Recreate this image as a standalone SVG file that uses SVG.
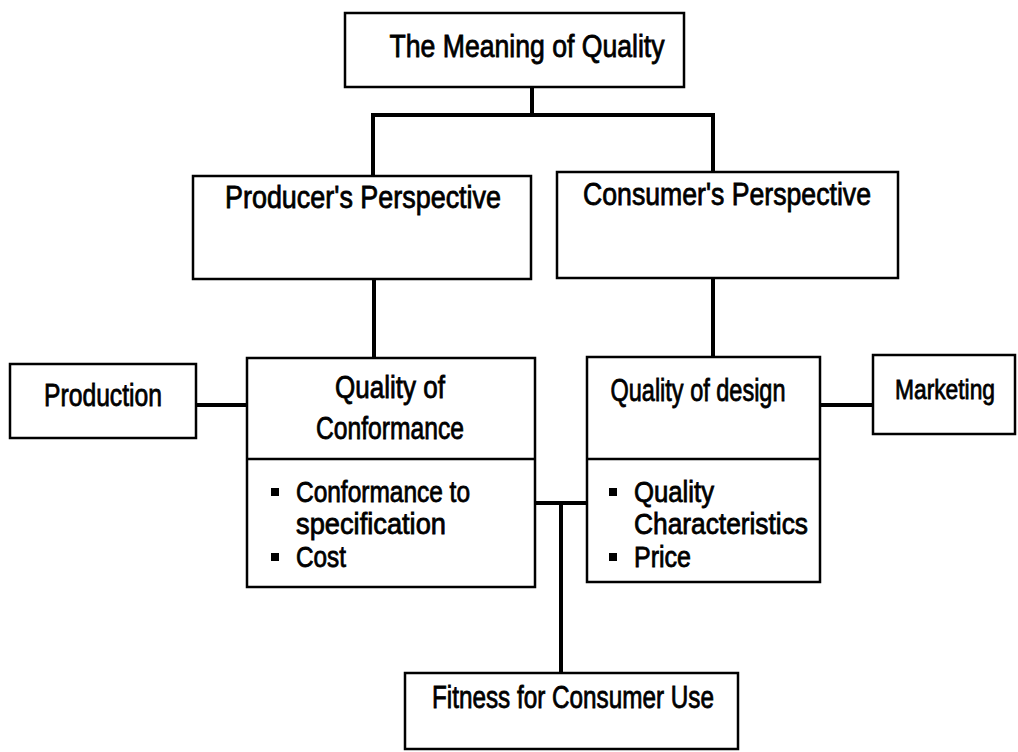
<svg xmlns="http://www.w3.org/2000/svg" width="1018" height="752" viewBox="0 0 1018 752">
  <style>
    .box { fill: #ffffff; stroke: #000000; stroke-width: 2.5; }
    .div { stroke: #000000; stroke-width: 2.5; }
    .wire { fill: none; stroke: #000000; stroke-width: 4; stroke-linecap: square; }
    .t { font-family: "Liberation Sans", Arial, sans-serif; font-size: 31px; fill: #000000; stroke: #000000; stroke-width: 0.8; }
    .c { text-anchor: middle; }
    .b { font-size: 29px; }
    .s { font-size: 28px; }
  </style>
  <defs>
    <rect id="bullet" x="-4" y="-4" width="8" height="8" fill="#000000"/>
  </defs>
  <rect width="1018" height="752" fill="#ffffff"/>

  <!-- connectors -->
  <g id="connectors">
    <path class="wire" d="M532 87 V115 M373 115 H713 M373 115 V176 M713 115 V172"/>
    <path class="wire" d="M374 279 V357 M713 278 V356"/>
    <path class="wire" d="M196 405 H247"/>
    <path class="wire" d="M820 405 H873"/>
    <path class="wire" d="M535 503 H587 M561 503 V673"/>
  </g>

  <g id="meaning">
    <rect class="box" x="345" y="13" width="339" height="74"/>
    <text class="t c" x="527" y="57" textLength="275" lengthAdjust="spacingAndGlyphs">The Meaning of Quality</text>
  </g>

  <g id="producer">
    <rect class="box" x="193" y="176" width="338" height="103"/>
    <text class="t c" x="363" y="208" textLength="276" lengthAdjust="spacingAndGlyphs">Producer's Perspective</text>
  </g>

  <g id="consumer">
    <rect class="box" x="557" y="172" width="341" height="106"/>
    <text class="t c" x="727" y="205" textLength="288" lengthAdjust="spacingAndGlyphs">Consumer's Perspective</text>
  </g>

  <g id="production">
    <rect class="box" x="10" y="364" width="186" height="74"/>
    <text class="t c" x="103" y="406" textLength="118" lengthAdjust="spacingAndGlyphs">Production</text>
  </g>

  <g id="conformance">
    <rect class="box" x="247" y="358" width="288" height="229"/>
    <line class="div" x1="247" y1="459" x2="535" y2="459"/>
    <text class="t c" x="390" y="398" textLength="110" lengthAdjust="spacingAndGlyphs">Quality of</text>
    <text class="t c" x="390" y="439" textLength="148" lengthAdjust="spacingAndGlyphs">Conformance</text>
    <use href="#bullet" x="275" y="492"/>
    <text class="t b" x="296" y="502" textLength="174" lengthAdjust="spacingAndGlyphs">Conformance to</text>
    <text class="t b" x="296" y="534" textLength="150" lengthAdjust="spacingAndGlyphs">specification</text>
    <use href="#bullet" x="275" y="557"/>
    <text class="t b" x="296" y="567" textLength="50" lengthAdjust="spacingAndGlyphs">Cost</text>
  </g>

  <g id="design">
    <rect class="box" x="587" y="357" width="233" height="225"/>
    <line class="div" x1="587" y1="459" x2="820" y2="459"/>
    <text class="t c" x="698" y="401" textLength="175" lengthAdjust="spacingAndGlyphs">Quality of design</text>
    <use href="#bullet" x="613" y="492"/>
    <text class="t b" x="634" y="502" textLength="80" lengthAdjust="spacingAndGlyphs">Quality</text>
    <text class="t b" x="634" y="534" textLength="174" lengthAdjust="spacingAndGlyphs">Characteristics</text>
    <use href="#bullet" x="613" y="557"/>
    <text class="t b" x="634" y="567" textLength="57" lengthAdjust="spacingAndGlyphs">Price</text>
  </g>

  <g id="marketing">
    <rect class="box" x="873" y="355" width="142" height="79"/>
    <text class="t c s" x="945" y="399" textLength="100" lengthAdjust="spacingAndGlyphs">Marketing</text>
  </g>

  <g id="fitness">
    <rect class="box" x="405" y="673" width="333" height="76"/>
    <text class="t c" x="573" y="708" textLength="282" lengthAdjust="spacingAndGlyphs">Fitness for Consumer Use</text>
  </g>
</svg>
